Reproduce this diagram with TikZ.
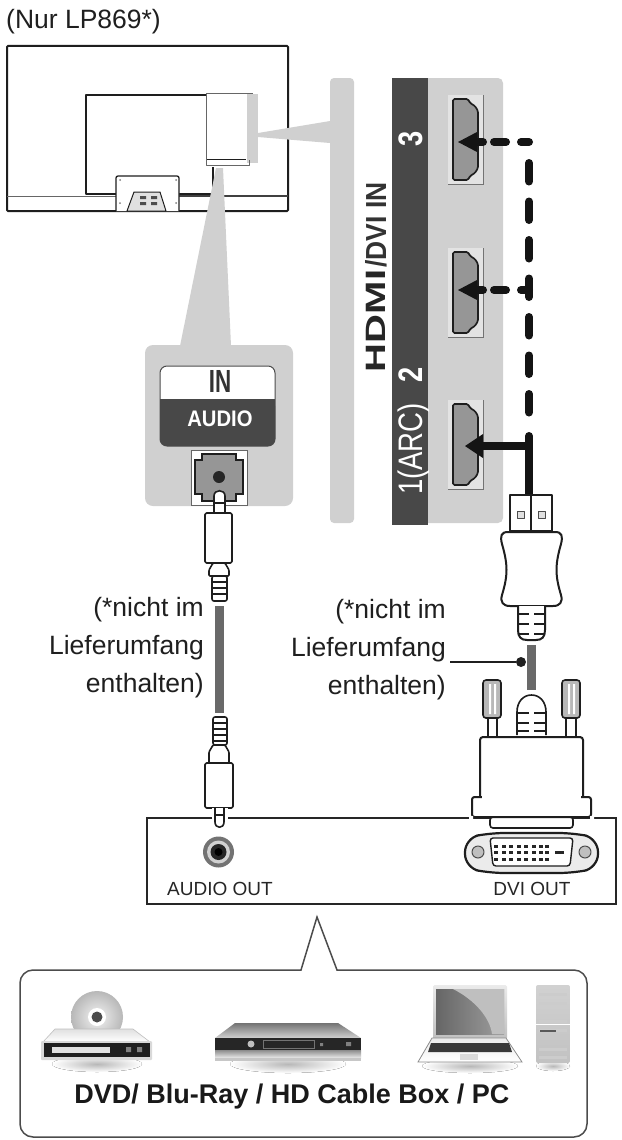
\documentclass[tikz,border=0pt]{standalone}
\usepackage{fontspec}
\usepackage{graphicx}
\setmainfont{Liberation Sans}
\newcommand{\fsz}[1]{\fontsize{#1}{#1}\selectfont}
\definecolor{panelgray}{RGB}{208,208,208}
\definecolor{darkbar}{RGB}{72,72,72}
\definecolor{portgray}{RGB}{150,150,150}
\definecolor{cablegray}{RGB}{105,105,105}
\definecolor{inkblack}{RGB}{30,30,30}
\tikzset{
  x=1pt,y=-1pt,
  ink/.style={draw=inkblack,line width=1.6pt,line join=round},
  thin ink/.style={draw=inkblack,line width=1pt,line join=round},
  solidwhite/.style={ink,fill=white},
  label text/.style={inner sep=0pt,text=black!88,font=\fsz{26.5}},
  small text/.style={inner sep=0pt,text=black!85,font=\fsz{19},anchor=base},
  bar text/.style={inner sep=0pt,rotate=90,anchor=base},
  cable/.style={draw=cablegray,line width=9pt},
  linkline/.style={draw=black!92,line width=8pt},
  linkdash/.style={linkline,line cap=round,dash pattern=on 18.5pt off 20pt},
  rowdash/.style={linkline,line cap=round,dash pattern=on 6pt off 11pt on 12pt off 15pt on 8pt off 100pt},
  panel/.style={fill=panelgray,draw=none},
  shadowblob/.style={shading=radial,inner color=black!28,outer color=white,draw=none},
  pics/hdmiport/.style={code={
    \draw[draw=black!55,line width=1pt,fill=white] (0,0) rectangle (35,89);
    \fill[panelgray!60] (0,0) rectangle (35,89);
    \draw[draw=inkblack,line width=1.7pt,fill=portgray,rounded corners=1.5pt]
      (5,4) -- (20,4) -- (22,8) -- (27,11) -- (30,16) -- (30,73) -- (27,78) -- (22,81) -- (20,85) -- (5,85) -- cycle;
  }},
}
\begin{document}
\begin{tikzpicture}
\useasboundingbox (0,0) rectangle (621,1140);
\fill[white] (0,0) rectangle (621,1140);

% title
\node[label text,anchor=base west] (title) at (6,29) {(Nur LP869*)};

% monitor
\draw[draw=inkblack,line width=2pt,rounded corners=1pt,fill=white] (7,46) rectangle (288,211);
\draw[draw=black!60,line width=1pt] (7,196) -- (116,196);
\draw[draw=black!75,line width=1.3pt] (179,196) -- (288,196);
\draw[thin ink,line width=1.3pt] (213,167) -- (213,194) -- (86,194) -- (86,95) -- (206,95);
\draw[thin ink,line width=1.3pt,fill=white,rounded corners=2pt] (116,211) -- (116,176) -- (179,176) -- (179,211);
\draw[thin ink,fill=black!12] (127,211) -- (134,192) -- (160,192) -- (166,211) -- cycle;
\fill[black!70] (140,196) rectangle (146,199) (151,196) rectangle (157,199) (140,202) rectangle (146,205) (151,202) rectangle (157,205);
\fill[black!50] (120,180) circle (1) (176,180) circle (1) (120,203) circle (1) (176,203) circle (1);
% wedges and light panels
\fill[panelgray] (258,133) -- (330,121) -- (330,143) -- (258,137) -- cycle;
\fill[panelgray] (216,168) -- (223,168) -- (231,346) -- (180,346) -- cycle;
\fill[white] (207,94) rectangle (247,158);
\fill[panelgray] (247,94) rectangle (258,163);
\draw[thin ink] (206,159) -- (246,159);
\draw[thin ink,draw=black!60] (206,93) -- (206,165) -- (249,165) -- (249,160);
\draw[thin ink,draw=black!60] (206,93) -- (253,93);

% strip and HDMI panel
\fill[panel,rounded corners=4pt] (330,78) rectangle (354,523);
\fill[panel,rounded corners=5pt] (420,78) rectangle (503,523);
\fill[darkbar] (392,78) rectangle (428,525);
\node[bar text,text=white,font=\fsz{34}\bfseries] (p3) at (422,139) {\scalebox{.8}[1]{3}};
\node[bar text,text=white,font=\fsz{34}\bfseries] (p2) at (422,375) {\scalebox{.8}[1]{2}};
\node[bar text,text=white,font=\fsz{34}] (p1) at (422,449) {\scalebox{.81}[1]{1(ARC)}};
\node[bar text,text=black!85,font=\fsz{28}\bfseries] (hdmilogo) at (385,321) {\scalebox{1.43}[1]{HDMI}};
\node[bar text,text=black!80,font=\fsz{29}\bfseries] (dviin) at (386,225) {\scalebox{.91}[1]{/DVI IN}};

\pic at (448,95) {hdmiport};
\pic at (448,248) {hdmiport};
\pic at (448,400) {hdmiport};
\coordinate (tip3) at (458,142);
\coordinate (tip2) at (458,290);
\coordinate (tip1) at (465,446);
\coordinate (tail3) at (477,142);
\coordinate (tail2) at (477,290);
\coordinate (tail1) at (481,446);
\coordinate (corner3) at (529,142);
\coordinate (corner2) at (529,290);
\coordinate (corner1) at (529,446);
\coordinate (runtop) at (529,163);
\coordinate (runend) at (529,425);
\coordinate (solidtop) at (529,436);
\coordinate (plugtop) at (529,496);
% arrow heads
\fill[black!92] (tip3) -- (477,132) -- (477,152) -- cycle;
\fill[black!92] (tip2) -- (477,280) -- (477,300) -- cycle;
\fill[black!92] (tip1) -- (483,434) -- (483,458) -- cycle;
% connectors
\draw[rowdash] (tail3) -- (corner3);
\draw[rowdash] (tail2) -- (corner2);
\draw[linkdash] (runtop) -- (runend);
\draw[linkline] (tail1) -- (corner1);
\draw[linkline,line cap=round] (solidtop) -- (plugtop);

% audio panel
\fill[panel,rounded corners=8pt] (145,345) rectangle (293,506);
\draw[draw=black!70,line width=1pt,fill=white,rounded corners=7pt] (160,366) rectangle (275,446);
\fill[darkbar,rounded corners=7pt] (160,399) rectangle (275,446);
\fill[darkbar] (160,399) rectangle (275,415);
\node[inner sep=0pt,anchor=base,text=black!80,font=\fsz{32}\bfseries] (inlabel) at (220,392) {\scalebox{.7}[1]{IN}};
\node[inner sep=0pt,anchor=base,text=white,font=\fsz{22.5}\bfseries] (audiolabel) at (220,426) {\scalebox{.9}[1]{AUDIO}};
% audio socket
\draw[draw=black!60,line width=1pt,fill=white] (191,450) rectangle (247,505);
\draw[draw=inkblack,line width=1.8pt,fill=portgray]
  (202,454) -- (236,454) -- (236,460) -- (243,460) -- (243,494) -- (236,494) -- (236,501) -- (202,501) -- (202,494) -- (195,494) -- (195,460) -- (202,460) -- cycle;
\fill[black!85] (219,477) circle (6);

% audio cable
\draw[cable] (219,606) -- (219,713);
% upper plug
\draw[solidwhite] (214,514) -- (214,496) .. controls (214,489) and (225,489) .. (225,496) -- (225,514) -- cycle;
\draw[ink] (214,503) -- (225,503);
\draw[solidwhite,rounded corners=1.5pt] (205,513) rectangle (232,563);
\draw[solidwhite,rounded corners=1pt] (213,563) -- (209,570) -- (209,576) -- (229,576) -- (229,570) -- (225,563) -- cycle;
\draw[solidwhite,rounded corners=2pt] (212,576) rectangle (227,601);
\foreach \yy in {582,588,594} \draw[ink,line width=1.5pt] (212,\yy) -- (227,\yy);

% lower device box
\draw[draw=black!85,line width=1.5pt,fill=white] (147,818) rectangle (616,904);
% lower plug
\draw[solidwhite,rounded corners=2pt] (213,717) rectangle (227,745);
\foreach \yy in {723,729,735,741} \draw[ink,line width=1.5pt] (213,\yy) -- (227,\yy);
\draw[solidwhite,rounded corners=1pt] (213,745) -- (209,752) -- (209,763) -- (229,763) -- (229,752) -- (225,745) -- cycle;
\draw[solidwhite,rounded corners=1.5pt] (205,763) rectangle (233,808);
\fill[white] (212,808) rectangle (228,829);
\draw[solidwhite] (215,808) -- (215,822) .. controls (215,829) and (224,829) .. (224,822) -- (224,808);
\draw[ink] (215,815) -- (224,815);
% audio out jack
\fill[black!55] (218.5,852) circle (15.5);
\fill[black!18] (218.5,852) circle (11.5);
\fill[black!85] (218.5,852) circle (8);
\fill[black] (218.5,852) circle (4);
\node[small text] (audioout) at (220,895) {AUDIO OUT};
\node[small text] (dviout) at (532,895) {DVI OUT};

% leader
\coordinate (leadstart) at (450,662);
\node[circle,fill=black!88,inner sep=0pt,minimum size=10pt] (leaddot) at (521,662) {};
\draw[cable] (531.5,645) -- (531.5,690);
\draw[draw=black!88,line width=1.3pt] (leadstart) -- (leaddot);

% HDMI plug
\draw[solidwhite] (510,531) rectangle (552,495);
\draw[ink,line width=1.2pt] (531,495) -- (531,531);
\draw[thin ink,draw=black!70,fill=black!12] (517.5,511.5) rectangle (524.5,518.5);
\draw[thin ink,draw=black!70,fill=black!12] (538.5,511.5) rectangle (545.5,518.5);
\draw[solidwhite,line width=2pt] (508,532) .. controls (501,532) and (500,536) .. (502,544)
  .. controls (508,565) and (508,575) .. (502,595) .. controls (500,602) and (503,606) .. (510,606)
  -- (553,606) .. controls (560,606) and (563,602) .. (561,595)
  .. controls (555,575) and (555,565) .. (561,544) .. controls (563,536) and (562,532) .. (555,532) -- cycle;
\draw[solidwhite,line width=2pt] (518,606) -- (518,630) .. controls (518,637) and (521,640) .. (527,640)
  -- (536,640) .. controls (542,640) and (545,637) .. (545,630) -- (545,606);
\foreach \yy in {614,624,634} {\draw[ink] (519,\yy) -- (529,\yy); \draw[ink] (534,\yy) -- (544,\yy);}

% DVI plug
\draw[solidwhite] (517,735) -- (517,712) .. controls (517,702) and (523,695) .. (531.5,695)
  .. controls (540,695) and (546,702) .. (546,712) -- (546,735);
\foreach \yy in {713,723,731} {\draw[ink] (518,\yy) -- (529,\yy); \draw[ink] (534,\yy) -- (545,\yy);}
\draw[solidwhite] (488,718) rectangle (497,738);
\draw[solidwhite] (566,718) rectangle (576,738);
\draw[ink,fill=black!28,rounded corners=3pt] (483,680) rectangle (501,718);
\draw[ink,fill=black!28,rounded corners=3pt] (562,680) rectangle (580,718);
\fill[white] (489,684) rectangle (491,714) (494,684) rectangle (496,714);
\fill[white] (568,684) rectangle (570,714) (573,684) rectangle (575,714);
\draw[solidwhite,rounded corners=3pt] (490,817) rectangle (573,828);
\draw[solidwhite,line width=2pt,rounded corners=3pt] (480,797) -- (480,737) -- (583,737) -- (583,797);
\draw[solidwhite,line width=2pt,rounded corners=2.5pt] (472,797) rectangle (591,817);
\fill[white] (482,790) rectangle (581,799);
\fill[white] (469,816) rectangle (473,820) (590,816) rectangle (594,820);
% DVI port
\draw[ink,line width=2.2pt,fill=black!8,rounded corners=14pt] (465,838) -- (490,833) -- (573,833) -- (598,838) -- (598,868) -- (573,873) -- (490,873) -- (465,868) -- cycle;
\draw[ink,line width=1.4pt,fill=white,rounded corners=3pt] (490,838) -- (573,838) -- (570,866) -- (493,866) -- cycle;
\draw[thin ink,draw=black!70,fill=black!25] (478,852) circle (6);
\draw[thin ink,draw=black!70,fill=black!25] (585,852) circle (6);
\foreach \cx in {496,503.5,511,518.5,526,533.5,541,547}
  \foreach \cy in {846,852.5,859} \fill[black!85] (\cx-2,\cy-1.5) rectangle (\cx+2,\cy+1.5);
\fill[black!85] (555,851) rectangle (564,854);

% texts
\node[label text,anchor=base east] (la) at (204,616) {(*nicht im};
\node[label text,anchor=base east] (lb) at (204,654) {Lieferumfang};
\node[label text,anchor=base east] (lc) at (204,692) {enthalten)};
\node[label text,anchor=base east] (ra) at (446,618) {(*nicht im};
\node[label text,anchor=base east] (rb) at (446,656) {Lieferumfang};
\node[label text,anchor=base east] (rc) at (446,694) {enthalten)};

% callout
\draw[draw=black!70,line width=1.5pt,fill=white,rounded corners=13pt]
  (160,970) -- (20,970) -- (20,1137) -- (587,1137) -- (587,970) -- (400,970) [sharp corners] -- (337,970) -- (317,917) -- (301,970) -- cycle;
\node[inner sep=0pt,anchor=base,text=black!90,font=\fsz{27}\bfseries] (devices) at (292,1103) {DVD/ Blu-Ray / HD Cable Box / PC};

% DVD icon
\fill[shadowblob] (97,1064) ellipse (45 and 8);
\shade[inner color=black!5,outer color=black!28] (97,1017) circle (26);
\fill[white] (97,1017) circle (9);
\fill[black!70] (97,1017) circle (5.5);
\shade[top color=black!12,bottom color=white,draw=black!25,line width=.6pt] (55,1029) -- (133,1029) -- (150,1042) -- (43,1042) -- cycle;
\fill[black!15,rounded corners=1pt] (41,1041) rectangle (152,1060);
\fill[black!88] (44,1043) rectangle (150,1057);
\fill[black!12] (52,1047) rectangle (110,1053);
\fill[black!50] (126,1047) rectangle (131,1052) (137,1047) rectangle (142,1052);

% set-top icon
\fill[shadowblob] (288,1064) ellipse (58 and 9);
\shade[top color=black!55,bottom color=black!18] (235,1023) -- (338,1023) -- (361,1038) -- (215,1038) -- cycle;
\fill[black!85] (215,1038) rectangle (361,1050);
\shade[top color=black!45,bottom color=black!8] (215,1050) rectangle (361,1058);
\fill[black!22] (215,1058) rectangle (361,1061);
\fill[black!25] (251,1044) circle (3.5);
\draw[draw=black!55,line width=.7pt] (263,1040) rectangle (314,1048);
\fill[black!50] (320,1043) rectangle (323,1046) (346,1042) rectangle (351,1046);

% laptop icon
\fill[shadowblob] (470,1066) ellipse (48 and 7);
\shade[top color=black!8,bottom color=black!25,rounded corners=1.5pt] (433,985) rectangle (507,1039);
\shade[left color=black!60,right color=black!38] (436,989) rectangle (504,1034);
\fill[black!25] (453,989) .. controls (475,1000) and (490,1018) .. (492,1034) -- (504,1034) -- (504,989) -- cycle;
\shade[top color=black!8,bottom color=white,draw=black!45,line width=.8pt] (432,1038) -- (506,1038) -- (522,1062) -- (418,1062) -- cycle;
\fill[black!78] (431,1043) -- (509,1043) -- (512,1052) -- (428,1052) -- cycle;
\fill[black!15] (460,1054) rectangle (478,1060);

% tower icon
\fill[shadowblob] (553,1066) ellipse (17 and 5);
\shade[top color=black!18,bottom color=black!24,rounded corners=2pt] (536,985) rectangle (570,1063);
\foreach \yy in {993,1002,1011,1020,1029,1048,1056} \fill[white!80!black] (539,\yy) rectangle (567,\yy+3);
\fill[white] (536,1024) rectangle (570,1025);
\fill[black!65] (540,1030) rectangle (556,1032);
\end{tikzpicture}
\end{document}
